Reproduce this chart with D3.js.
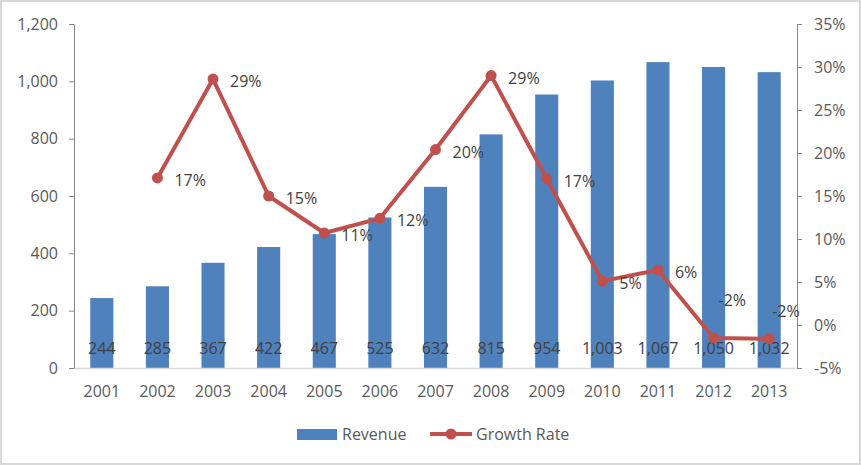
<!DOCTYPE html>
<html>
<head>
<meta charset="utf-8">
<script src="https://cdn.jsdelivr.net/npm/d3@7"></script>
<style>
  html, body { margin: 0; padding: 0; background: #fff; }
  svg { display: block; font-family: "Open Sans", Lato, sans-serif; }
</style>
</head>
<body>
<svg id="chart" width="861" height="465"></svg>
<script>
const years = ["2001","2002","2003","2004","2005","2006","2007","2008","2009","2010","2011","2012","2013"];
const revenue = [244, 285, 367, 422, 467, 525, 632, 815, 954, 1003, 1067, 1050, 1032];
const growth = [null, 0.171, 0.286, 0.150, 0.107, 0.124, 0.204, 0.290, 0.170, 0.051, 0.064, -0.015, -0.016];
const growthLabels = [null, "17%", "29%", "15%", "11%", "12%", "20%", "29%", "17%", "5%", "6%", "-2%", "-2%"];
const leftTicks = [0, 200, 400, 600, 800, 1000, 1200];
const rightTicks = [-0.05, 0, 0.05, 0.10, 0.15, 0.20, 0.25, 0.30, 0.35];

const W = 861, H = 465;
const plot = { left: 74, right: 797, top: 24, bottom: 368 };
const barColor = "#4F81BD", lineColor = "#C0504D", textColor = "#595959", axisColor = "#868686";
const FONT = "'Open Sans', Lato, sans-serif";

const svg = d3.select("#chart");
svg.append("rect").attr("x", 1).attr("y", 1).attr("width", W - 2).attr("height", H - 2)
  .attr("fill", "#fff").attr("stroke", "#D9D9D9").attr("stroke-width", 2);

const x = d3.scaleBand().domain(years).range([plot.left, plot.right]).padding(0);
const yL = d3.scaleLinear().domain([0, 1200]).range([plot.bottom, plot.top]);
const yR = d3.scaleLinear().domain([-0.05, 0.35]).range([plot.bottom, plot.top]);
const barW = x.bandwidth() * 0.415;
const cx = d => x(d) + x.bandwidth() / 2;

// bars
svg.append("g").selectAll("rect").data(years).join("rect")
  .attr("x", (d) => cx(d) - barW / 2)
  .attr("y", (d, i) => yL(revenue[i]))
  .attr("width", barW)
  .attr("height", (d, i) => yL(0) - yL(revenue[i]))
  .attr("fill", barColor);

// bottom axis
const xAxis = d3.axisBottom(x).tickSize(0).tickPadding(18);
const gx = svg.append("g").attr("transform", `translate(0,${plot.bottom})`).call(xAxis);
gx.select(".domain").attr("stroke", "#D9D9D9").attr("stroke-width", 1.5);
gx.selectAll("text").attr("fill", textColor).style("font-size", "16px").style("font-family", FONT);

// left axis
const fmtL = d3.format(",");
const gl = svg.append("g").attr("transform", `translate(${plot.left},0)`)
  .call(d3.axisLeft(yL).tickValues(leftTicks).tickFormat(fmtL).tickSize(5).tickSizeOuter(0).tickPadding(11));
gl.select(".domain").attr("stroke", axisColor);
gl.selectAll(".tick line").attr("stroke", axisColor);
gl.selectAll("text").attr("fill", textColor).style("font-size", "16px").style("font-family", FONT);

// right axis
const fmtR = d => Math.round(d * 100) + "%";
const gr = svg.append("g").attr("transform", `translate(${plot.right},0)`)
  .call(d3.axisRight(yR).tickValues(rightTicks).tickFormat(fmtR).tickSize(5).tickSizeOuter(0).tickPadding(12));
gr.select(".domain").attr("stroke", axisColor);
gr.selectAll(".tick line").attr("stroke", axisColor);
gr.selectAll("text").attr("fill", textColor).style("font-size", "16px").style("font-family", FONT);

// bar value labels
svg.append("g").selectAll("text").data(years).join("text")
  .attr("x", d => cx(d))
  .attr("y", 348)
  .attr("text-anchor", "middle")
  .attr("dominant-baseline", "central")
  .attr("fill", "#404040")
  .style("font-size", "16px")
  .text((d, i) => fmtL(revenue[i]));

// growth line
const pts = years.map((d, i) => ({ year: d, v: growth[i], label: growthLabels[i], i })).filter(p => p.v !== null);
const line = d3.line().x(p => cx(p.year)).y(p => yR(p.v));
svg.append("path").datum(pts).attr("d", line)
  .attr("fill", "none").attr("stroke", lineColor).attr("stroke-width", 4).attr("stroke-linejoin", "round");
svg.append("g").selectAll("circle").data(pts).join("circle")
  .attr("cx", p => cx(p.year)).attr("cy", p => yR(p.v)).attr("r", 5.5).attr("fill", lineColor);

// growth labels (Excel "right" placement; last two moved up)
const labelShift = { "2012": [5, -38], "2013": [3, -28] };
svg.append("g").selectAll("text").data(pts).join("text")
  .attr("x", p => cx(p.year) + (labelShift[p.year] ? labelShift[p.year][0] : 17))
  .attr("y", p => yR(p.v) + (labelShift[p.year] ? labelShift[p.year][1] : 2))
  .attr("dominant-baseline", "central")
  .attr("fill", "#404040")
  .style("font-size", "16px")
  .text(p => p.label);

// legend
const lg = svg.append("g");
lg.append("rect").attr("x", 297).attr("y", 429).attr("width", 40).attr("height", 11).attr("fill", barColor);
lg.append("text").attr("x", 342).attr("y", 434).attr("dominant-baseline", "central")
  .attr("fill", textColor).style("font-size", "16px").text("Revenue");
lg.append("line").attr("x1", 430).attr("x2", 472).attr("y1", 434).attr("y2", 434)
  .attr("stroke", lineColor).attr("stroke-width", 4);
lg.append("circle").attr("cx", 451).attr("cy", 434).attr("r", 5.5).attr("fill", lineColor);
lg.append("text").attr("x", 476).attr("y", 434).attr("dominant-baseline", "central")
  .attr("fill", textColor).style("font-size", "16px").text("Growth Rate");
</script>
</body>
</html>
